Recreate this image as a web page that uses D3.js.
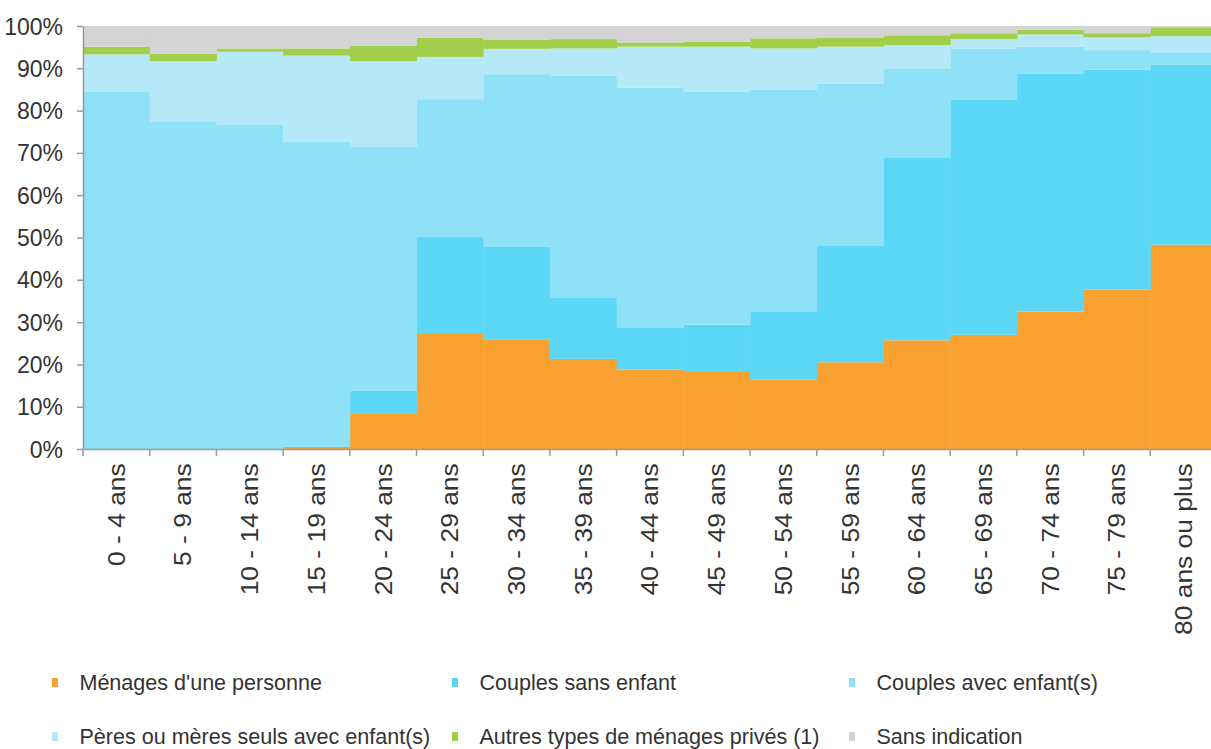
<!DOCTYPE html>
<html><head><meta charset="utf-8">
<script src="https://cdn.jsdelivr.net/npm/d3@7"></script>
<style>body{margin:0;background:#fff;} text{font-family:"Liberation Sans",Arial,sans-serif;}</style>
</head><body><svg id="c" width="1211" height="749"></svg>
<script>
const categories = ["0 - 4 ans","5 - 9 ans","10 - 14 ans","15 - 19 ans","20 - 24 ans","25 - 29 ans","30 - 34 ans","35 - 39 ans","40 - 44 ans","45 - 49 ans","50 - 54 ans","55 - 59 ans","60 - 64 ans","65 - 69 ans","70 - 74 ans","75 - 79 ans","80 ans ou plus"];
const seriesNames = ["Ménages d'une personne","Couples sans enfant","Couples avec enfant(s)","Pères ou mères seuls avec enfant(s)","Autres types de ménages privés (1)","Sans indication"];
const menagesUnePersonne = [0,0,0,0.5,8.3,27.4,25.8,21.3,18.8,18.2,16.4,20.5,25.7,27.0,32.5,37.7,48.3];
const couplesSansEnfant  = [0,0,0,0,5.5,22.7,22.1,14.4,9.8,11.2,16.0,27.5,43.1,55.5,56.3,52.0,42.6];
const couplesAvecEnfants = [84.4,77.3,76.6,72.1,57.6,32.6,40.7,52.5,56.8,55.1,52.6,38.4,21.2,12.2,6.3,4.6,2.9];
const peresMeresSeuls    = [8.9,14.4,17.3,20.4,20.3,10.0,6.0,6.5,9.7,10.6,9.7,8.7,5.5,2.2,2.9,3.0,3.8];
const autresTypes        = [1.8,1.8,0.8,1.7,3.6,4.5,2.1,2.2,1.0,1.2,2.4,2.2,2.3,1.4,1.1,1.0,2.1];
const sansIndication     = [4.9,6.5,5.3,5.3,4.7,2.8,3.3,3.1,3.9,3.7,2.9,2.7,2.2,1.7,0.9,1.7,0.3];
const yTicks = [0,10,20,30,40,50,60,70,80,90,100];
const colors = ["#F9A232","#5CD8F6","#8EE1F6","#B5E9F8","#A2CF4A","#D4D4D4"];

const allSeries = [menagesUnePersonne,couplesSansEnfant,couplesAvecEnfants,peresMeresSeuls,autresTypes,sansIndication];
const rows = categories.map((c,i)=>{const o={cat:c}; seriesNames.forEach((s,j)=>o[s]=allSeries[j][i]); return o;});
const stack = d3.stack().keys(seriesNames)(rows);

const svg = d3.select("#c");
const x = d3.scaleBand().domain(categories).range([83,1217]).paddingInner(0).paddingOuter(0);
const y = d3.scaleLinear().domain([0,100]).range([449,26]);

svg.append("g").selectAll("g").data(stack).join("g")
  .attr("fill",(d,i)=>colors[i])
  .selectAll("rect").data(d=>d).join("rect")
  .attr("x",d=>x(d.data.cat)).attr("width",x.bandwidth()+0.5)
  .attr("y",d=>y(d[1])).attr("height",d=>Math.max(0,y(d[0])-y(d[1])));

// y axis
const ya = svg.append("g").attr("transform","translate(83,0)")
  .call(d3.axisLeft(y).tickValues(yTicks).tickFormat(d=>d+"%").tickSize(6).tickSizeOuter(0));
ya.select(".domain").attr("stroke","#999").attr("stroke-width",1.5);
ya.selectAll(".tick line").attr("stroke","#999").attr("stroke-width",1.5);
ya.selectAll("text").attr("font-size",23).attr("fill","#333").attr("x",-20).attr("dy","0.35em");

// x axis
const xa = svg.append("g").attr("transform","translate(0,449)")
  .call(d3.axisBottom(x).tickSize(0).tickSizeOuter(0));
xa.select(".domain").attr("stroke","#999").attr("stroke-width",1.5);
xa.selectAll("text").attr("font-size",24).attr("fill","#333")
  .attr("transform","rotate(-90) scale(1.1,1)").attr("text-anchor","end")
  .attr("x",-13).attr("y",0).attr("dy","0.35em");
// boundary ticks
const bounds = categories.map(c=>x(c)).concat([x.range()[1]]);
svg.append("g").selectAll("line").data(bounds).join("line")
  .attr("x1",d=>d).attr("x2",d=>d).attr("y1",449).attr("y2",456)
  .attr("stroke","#999").attr("stroke-width",1.5);

// legend
const legPos = [[52,682],[452,682],[849,682],[52,736],[452,736],[849,736]];
const leg = svg.append("g").selectAll("g").data(seriesNames).join("g")
  .attr("transform",(d,i)=>`translate(${legPos[i][0]},${legPos[i][1]})`);
leg.append("rect").attr("x",0).attr("y",-4).attr("width",6).attr("height",9).attr("fill",(d,i)=>colors[i]);
leg.append("text").attr("x",28).attr("dy","0.35em").attr("font-size",22).attr("fill","#333")
  .attr("transform","scale(0.98,1)").text(d=>d);
</script></body></html>
